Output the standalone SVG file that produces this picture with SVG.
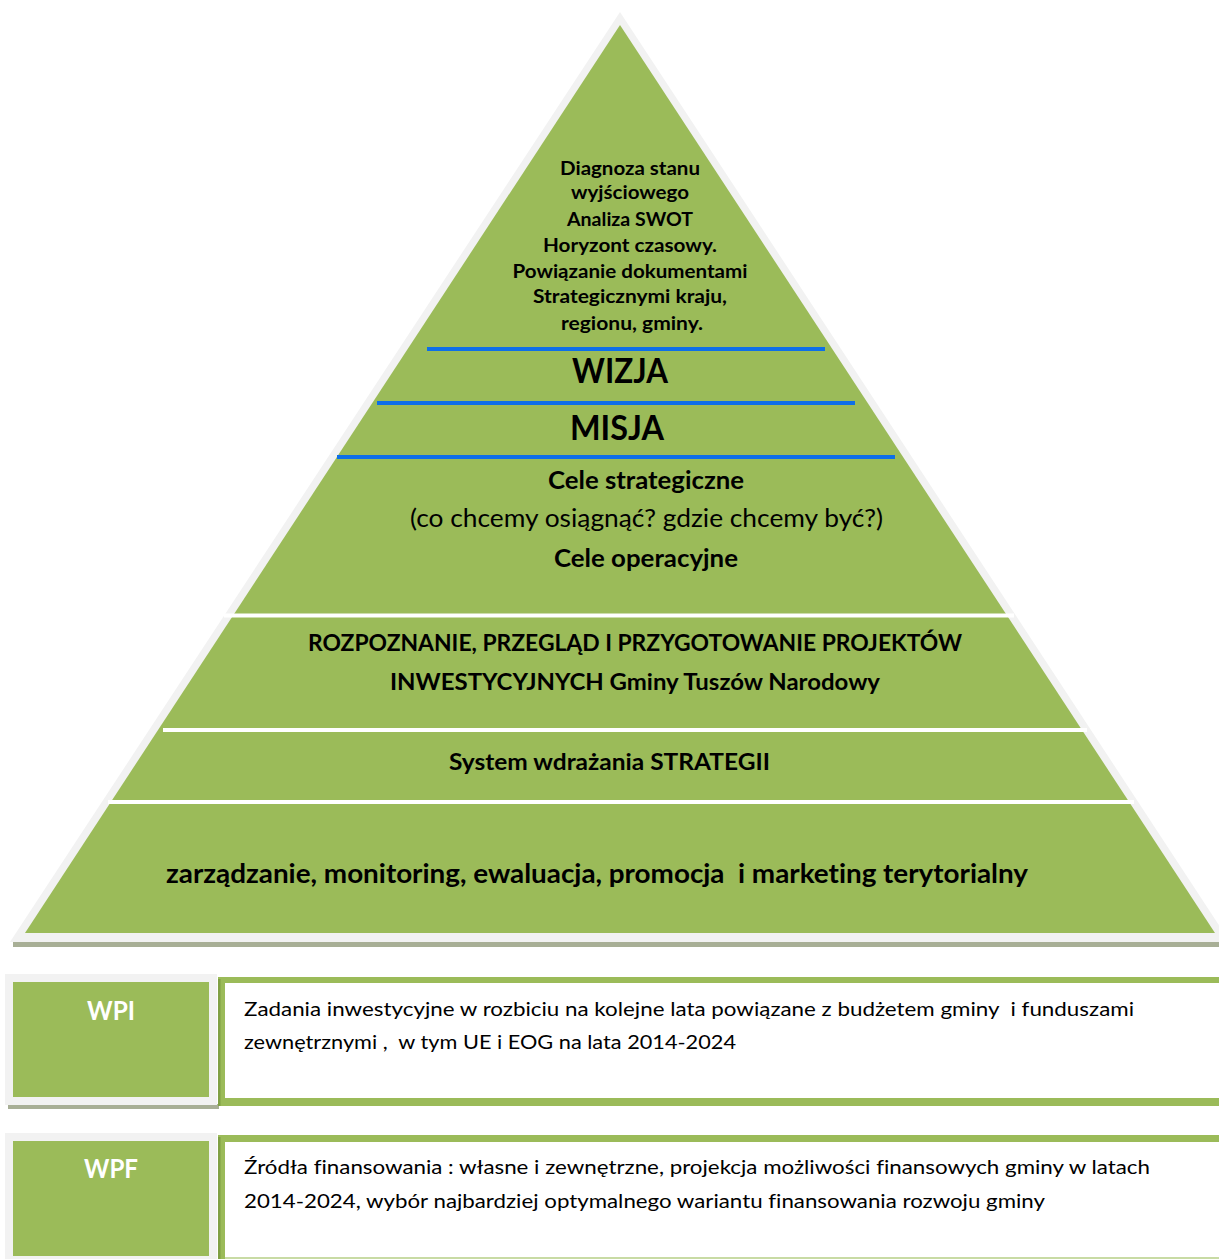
<svg xmlns="http://www.w3.org/2000/svg" width="1219" height="1259" viewBox="0 0 1219 1259">
<style>
text{font-family:Lato,"Open Sans","Liberation Sans",sans-serif;fill:#000;white-space:pre;font-variant-ligatures:none;font-feature-settings:"liga" 0}
.b{font-weight:bold}
.c{text-anchor:middle}
.w{fill:#fff}
.blue{stroke:#0d6fe8;stroke-width:4}
.sep{stroke:#fff;stroke-width:4}
.g{fill:#9bbb59}
.gray{fill:#f2f2f2}
.sh{fill:#a8af96}
</style>
<rect width="1219" height="1259" fill="#fff"/>
<g id="pyramid">
<polygon class="sh" points="13,942 1230,942 1230,947 13,947"/>
<polygon class="gray" points="620,12 10,942 1230,942"/>
<polygon class="g" points="620,25 25,933 1215,933"/>
</g>
<g id="connectors">
<line class="blue" x1="427" y1="349" x2="825" y2="349"/>
<line class="blue" x1="377" y1="403" x2="855" y2="403"/>
<line class="blue" x1="337" y1="457" x2="895" y2="457"/>
<line class="sep" x1="224" y1="615.5" x2="1014" y2="615.5"/>
<line class="sep" x1="163" y1="730" x2="1087" y2="730"/>
<line class="sep" x1="108" y1="802" x2="1134" y2="802"/>
</g>
<g id="node-diagnoza">
<text class="b c" font-size="19" x="630" y="175" textLength="140" lengthAdjust="spacingAndGlyphs">Diagnoza stanu</text>
<text class="b c" font-size="19" x="630" y="199" textLength="118" lengthAdjust="spacingAndGlyphs">wyjściowego</text>
<text class="b c" font-size="19" x="630" y="226" textLength="126" lengthAdjust="spacingAndGlyphs">Analiza SWOT</text>
<text class="b c" font-size="19" x="630" y="252" textLength="174" lengthAdjust="spacingAndGlyphs">Horyzont czasowy.</text>
<text class="b c" font-size="19" x="630" y="278" textLength="235" lengthAdjust="spacingAndGlyphs">Powiązanie dokumentami</text>
<text class="b c" font-size="19" x="630" y="303" textLength="194" lengthAdjust="spacingAndGlyphs">Strategicznymi kraju,</text>
<text class="b c" font-size="19" x="632" y="330" textLength="142" lengthAdjust="spacingAndGlyphs">regionu, gminy.</text>
</g>
<g id="node-wizja">
<text class="b c" font-size="34" x="620" y="383" textLength="96" lengthAdjust="spacingAndGlyphs">WIZJA</text>
</g>
<g id="node-misja">
<text class="b c" font-size="34" x="617" y="440" textLength="94" lengthAdjust="spacingAndGlyphs">MISJA</text>
</g>
<g id="node-cele">
<text class="b c" font-size="25" x="646" y="489" textLength="196" lengthAdjust="spacingAndGlyphs">Cele strategiczne</text>
<text class="c" font-size="25" x="646.5" y="527" textLength="473" lengthAdjust="spacingAndGlyphs">(co chcemy osiągnąć? gdzie chcemy być?)</text>
<text class="b c" font-size="25" x="646" y="567" textLength="184" lengthAdjust="spacingAndGlyphs">Cele operacyjne</text>
</g>
<g id="node-projekty">
<text class="b c" font-size="23" x="635" y="651" textLength="654" lengthAdjust="spacingAndGlyphs">ROZPOZNANIE, PRZEGLĄD I PRZYGOTOWANIE PROJEKTÓW</text>
<text class="b c" font-size="23" x="635" y="690" textLength="490" lengthAdjust="spacingAndGlyphs">INWESTYCYJNYCH Gminy Tuszów Narodowy</text>
</g>
<g id="node-system">
<text class="b c" font-size="23" x="609.5" y="770" textLength="321" lengthAdjust="spacingAndGlyphs">System wdrażania STRATEGII</text>
</g>
<g id="node-zarzadzanie">
<text class="b c" font-size="27" x="597" y="883" textLength="862" lengthAdjust="spacingAndGlyphs">zarządzanie, monitoring, ewaluacja, promocja  i marketing terytorialny</text>
</g>
<g id="node-wpi">
<rect class="sh" x="8" y="1104" width="211" height="5"/>
<rect class="gray" x="5" y="974" width="212" height="131"/>
<rect class="g" x="13" y="982" width="196" height="115"/>
<text class="b c w" font-size="26" x="111" y="1020" textLength="48" lengthAdjust="spacingAndGlyphs">WPI</text>
</g>
<g id="node-wpi-desc">
<rect class="g" x="218" y="977" width="1012" height="129"/>
<rect x="218" y="979" width="2.5" height="127" fill="#80a044"/>
<rect x="225" y="983" width="1005" height="115" fill="#fff"/>
<text font-size="19.5" x="244" y="1016" textLength="890" lengthAdjust="spacingAndGlyphs">Zadania inwestycyjne w rozbiciu na kolejne lata powiązane z budżetem gminy  i funduszami</text>
<text font-size="19.5" x="244" y="1049" textLength="492" lengthAdjust="spacingAndGlyphs">zewnętrznymi ,  w tym UE i EOG na lata 2014-2024</text>
</g>
<g id="node-wpf">
<rect class="gray" x="5" y="1133" width="212" height="130"/>
<rect class="g" x="13" y="1141" width="196" height="115"/>
<text class="b c w" font-size="26" x="111" y="1178" textLength="54" lengthAdjust="spacingAndGlyphs">WPF</text>
</g>
<g id="node-wpf-desc">
<rect class="g" x="218" y="1135" width="1012" height="130"/>
<rect x="218" y="1137" width="2.5" height="128" fill="#80a044"/>
<rect x="225" y="1142" width="1005" height="115" fill="#fff"/>
<rect x="225" y="1257" width="1005" height="2" fill="#c8dba4"/>
<text font-size="19.5" x="244" y="1174" textLength="906" lengthAdjust="spacingAndGlyphs">Źródła finansowania : własne i zewnętrzne, projekcja możliwości finansowych gminy w latach</text>
<text font-size="19.5" x="244" y="1208" textLength="801" lengthAdjust="spacingAndGlyphs">2014-2024, wybór najbardziej optymalnego wariantu finansowania rozwoju gminy</text>
</g>
</svg>
